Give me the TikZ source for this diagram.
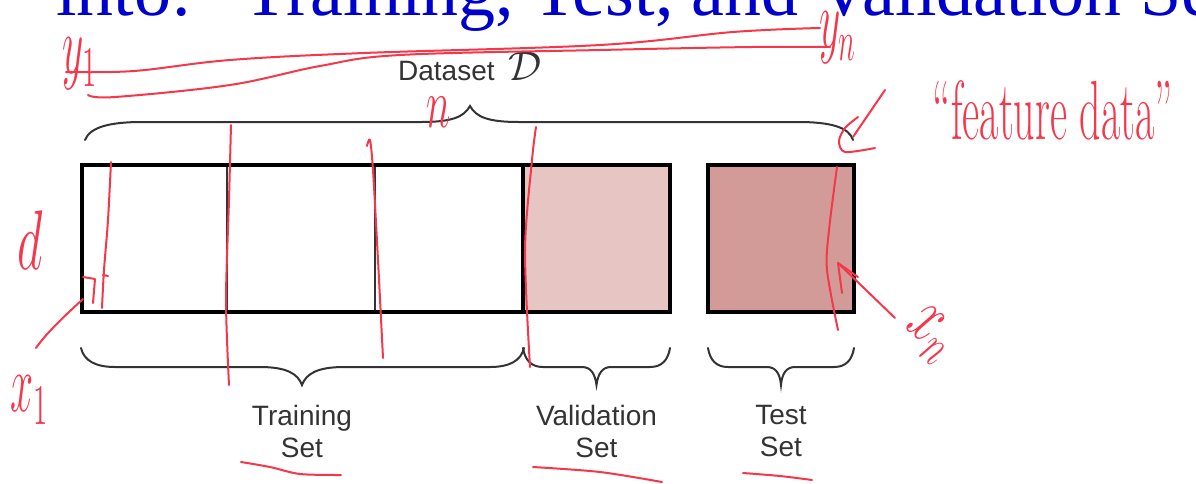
\documentclass[tikz,border=0pt]{standalone}
\usepackage{fontspec}
\usepackage{graphicx}
\newfontfamily\lsans{Liberation Sans}
\newfontfamily\lserif{Liberation Serif}
\definecolor{titleblue}{RGB}{0,0,204}
\definecolor{valfill}{RGB}{230,197,195}
\definecolor{testfill}{RGB}{211,155,152}
\definecolor{inkred}{RGB}{245,55,75}
\definecolor{lbl}{RGB}{51,51,51}
\begin{document}
\begin{tikzpicture}[x=0.5pt,y=-0.5pt,
  cell/.style={draw=lbl, line width=1pt, minimum height=73.5pt, inner sep=0pt, outer sep=0pt},
  thickb/.style={draw=black, line width=1.8pt},
  bracepath/.style={draw=lbl, line width=1pt, line cap=round},
  lab/.style={text=lbl, inner sep=0pt, font=\lsans\fontsize{14}{16}\selectfont, align=center},
  ink/.style={draw=inkred, line width=1pt, line cap=round, line join=round},
  hand/.style={text=inkred, inner sep=0pt}]
\useasboundingbox (0,0) rectangle (1196,483);

% title (cut off at the top)
\node[anchor=base west, inner sep=0pt, text=titleblue, font=\lserif\fontsize{37}{37}\selectfont] (title) at (56,15) {into:\hspace{0.694em}Training, Test, and Validation Se};

% cells
\node[cell, minimum width=72.5pt] (tr1) at (154.5,238.5) {};
\node[cell, minimum width=74pt] (tr2) at (301,238.5) {};
\node[cell, minimum width=74pt] (tr3) at (449,238.5) {};
\node[cell, fill=valfill, minimum width=73.5pt] (val) at (596.5,238.5) {};
\node[cell, thickb, fill=testfill, minimum width=73pt] (test) at (781,238.5) {};
\draw[thickb] (tr1.north west) rectangle (val.south east);
\draw[thickb] (val.north west) -- (val.south west);

% braces
\draw[bracepath] (85,140) .. controls (90,127) and (110,122) .. (142,122) -- (421,122)
  .. controls (452,122) and (464,117) .. (470,106) .. controls (476,117) and (488,122) .. (519,122)
  -- (798,122) .. controls (830,122) and (849,127) .. (853,140);
\draw[bracepath] (81,348) .. controls (84,361) and (96,367) .. (115,367) -- (260,367)
  .. controls (287,367) and (298,374) .. (302,385) .. controls (306,374) and (317,367) .. (344,367)
  -- (490,367) .. controls (509,367) and (521,361) .. (524,348);
\draw[bracepath] (523,348) .. controls (525,360) and (531,367) .. (543,367) -- (582,367)
  .. controls (591,367) and (595,374) .. (596.5,385) .. controls (598,374) and (602,367) .. (611,367)
  -- (650,367) .. controls (662,367) and (668,360) .. (670,348);
\draw[bracepath] (708,348) .. controls (710,360) and (716,367) .. (728,367) -- (767,367)
  .. controls (776,367) and (780,374) .. (781,385) .. controls (782,374) and (786,367) .. (795,367)
  -- (834,367) .. controls (846,367) and (852,360) .. (854,348);

% labels
\node[lab, anchor=base] (dslab) at (470,80) {Dataset\hspace{7pt}{\fontsize{22}{22}\selectfont$\mathcal{D}$}};
\node[lab, anchor=north] (trlab) at (302,405) {Training\\Set};
\node[lab, anchor=north] (vallab) at (596.5,405) {Validation\\Set};
\node[lab, anchor=north] (testlab) at (781,405) {Test\\Set};

% handwritten annotations
\node[hand, font=\fontsize{20}{20}\selectfont] (y1) at (80,64) {\scalebox{1}[2]{$y_1$}};
\node[hand, font=\fontsize{20}{20}\selectfont] (yn) at (838,38) {\scalebox{1}[2]{$y_n$}};
\node[hand, font=\fontsize{20}{20}\selectfont] (nlab) at (439,112) {\scalebox{1}[1.7]{$n$}};
\node[hand, font=\fontsize{28}{28}\selectfont] (dlab) at (30,240) {\scalebox{1}[1.7]{$d$}};
\node[hand, font=\fontsize{22}{22}\selectfont] (x1) at (30,400) {\scalebox{1}[2]{$x_1$}};
\node[hand, font=\fontsize{24}{24}\selectfont, rotate=-40] (xn) at (930,335) {\scalebox{1}[1.6]{$x_n$}};
\node[hand, font=\fontsize{21}{21}\selectfont] (feat) at (1053,110) {\scalebox{1}[2]{“feature data”}};

% red strokes
\draw[ink] plot[smooth, tension=0.6] coordinates {(66,72) (134,71) (230,60) (364,53) (600,45) (733,32) (820,28)};
\draw[ink] plot[smooth, tension=0.6] coordinates {(88,95) (115,97) (230,85) (320,66) (400,55) (600,50) (752,47) (830,47)};
\draw[ink] plot[smooth] coordinates {(111,162) (108,220) (104,270) (102,308)};
\draw[ink] (103,275) -- (108,276);
\draw[ink] (83,277) -- (95,279) -- (93,303);
\draw[ink] (83,299) .. controls (60,320) and (45,335) .. (36,348);
\draw[ink] plot[smooth] coordinates {(231,125) (229,200) (226,300) (229,385)};
\draw[ink] plot[smooth] coordinates {(367,146) (370,140) (373,170) (378,260) (383,358)};
\draw[ink] plot[smooth] coordinates {(536,127) (532,160) (525,250) (530,367)};
\draw[ink] plot[smooth] coordinates {(837,167) (829,230) (827,270) (838,330)};
\coordinate (arrtail) at (895,318);
\coordinate (arrtip) at (838,263);
\draw[ink] (arrtail) -- (arrtip);
\draw[ink] (858,277) -- (arrtip) -- (842,293);
\draw[ink] (885,90) -- (853,137);
\draw[ink] plot[smooth] coordinates {(858,117) (845,128) (839,141) (845,152) (875,148)};
\draw[ink] plot[smooth] coordinates {(241,462) (270,467) (300,474) (341,475)};
\draw[ink] plot[smooth] coordinates {(533,467) (600,472) (662,482)};
\draw[ink] plot[smooth] coordinates {(743,473) (780,476) (812,480)};
\end{tikzpicture}
\end{document}
